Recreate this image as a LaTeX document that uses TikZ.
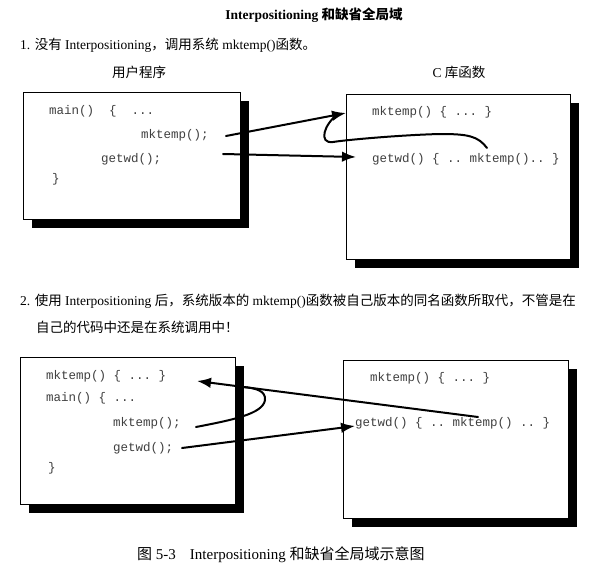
\documentclass[tikz,border=0pt]{standalone}
\usepackage{fontspec}
\setmainfont{Liberation Serif}
\setmonofont{Liberation Mono}
\newfontfamily\cjk{Noto Sans CJK SC}
\usetikzlibrary{arrows.meta,shadows}
\newcommand\zh[1]{{\cjk #1}}
\begin{document}
\begin{tikzpicture}[x=1pt,y=-1pt,
  codebox/.style={draw=black, line width=0.8pt, fill=white, inner sep=0pt, outer sep=0pt, anchor=north west,
    general shadow={fill=black, shadow xshift=8.5pt, shadow yshift=-9pt}},
  code/.style={font=\ttfamily\fontsize{12.5}{14}\selectfont, text=black!75, anchor=base west, inner sep=0pt},
  body/.style={font=\fontsize{13.5}{16}\selectfont, anchor=base west, inner sep=0pt},
  head/.style={font=\fontsize{13.5}{16}\selectfont, anchor=base, inner sep=0pt},
  conn/.style={line width=2pt, line cap=round},
  arr/.style={conn, -{Latex[length=14pt,width=10.5pt]}}]
\useasboundingbox (0,0) rectangle (607,575);

% headings
\node[font=\bfseries\fontsize{13.5}{15}\selectfont, anchor=base, inner sep=0pt] (title) at (314,20)
  {Interpositioning \zh{\bfseries 和缺省全局域}};
\node[body] (t1) at (20,50) {1. \zh{没有} Interpositioning\zh{，调用系统} mktemp()\zh{函数。}};
\node[head] (h1) at (139,78) {\zh{用户程序}};
\node[head] (h2) at (459,78) {C \zh{库函数}};
\node[body] (t2) at (20,305) {2. \zh{使用} Interpositioning \zh{后，系统版本的} mktemp()\zh{函数被自己版本的同名函数所取代，不管是在}};
\node[body] (t3) at (36,332) {\zh{自己的代码中还是在系统调用中！}};
\node[font=\fontsize{15}{18}\selectfont, anchor=base west, inner sep=0pt] (cap) at (137,559)
  {\zh{图} 5-3\hspace{14pt}Interpositioning \zh{和缺省全局域示意图}};

% boxes
\node[codebox, minimum width=217pt, minimum height=127pt] (b1) at (23,92) {};
\node[codebox, minimum width=224pt, minimum height=165pt] (b2) at (346,94) {};
\node[codebox, minimum width=215pt, minimum height=147pt] (b3) at (20,357) {};
\node[codebox, minimum width=225pt, minimum height=158pt] (b4) at (343,360) {};

% code box 1
\node[code] (m1) at (49,114) {main()~~\{~~...};
\node[code] (k1) at (141,138) {mktemp();};
\node[code] (g1) at (101,162) {getwd();};
\node[code] (e1) at (52,182) {\}};
% code box 2
\node[code] (k2) at (372,115) {mktemp() \{ ... \}};
\node[code] (g2) at (372,162) {getwd() \{ .. mktemp().. \}};
% code box 3
\node[code] (k3) at (46,379) {mktemp() \{ ... \}};
\node[code] (m3) at (46,401) {main() \{ ...};
\node[code] (kc3) at (113,426) {mktemp();};
\node[code] (g3) at (113,451) {getwd();};
\node[code] (e3) at (48,471) {\}};
% code box 4
\node[code] (k4) at (370,381) {mktemp() \{ ... \}};
\node[code] (g4) at (355,426) {getwd() \{ .. mktemp() .. \}};

% connectors, part 1
\coordinate (a1s) at (226,136);
\coordinate (a1e) at (346,113);
\draw[arr] (a1s) -- (a1e);
\coordinate (a2s) at (223,154);
\coordinate (a2e) at (356,157);
\draw[arr] (a2s) -- (a2e);
\coordinate (c1s) at (487,148);
\draw[conn] (c1s) .. controls (478,136) and (468,134) .. (440,134)
  .. controls (400,135) and (345,140) .. (333,142)
  .. controls (318,144) and (324,124) .. (338,114);

% connectors, part 2
\coordinate (l1s) at (478,417);
\coordinate (l1e) at (197,381);
\draw[arr] (l1s) -- (l1e);
\coordinate (c2s) at (196,427);
\draw[conn] (c2s) .. controls (232,420) and (263,414) .. (265,400)
  .. controls (266,391) and (256,388) .. (243,387);
\coordinate (a3s) at (182,448);
\coordinate (a3e) at (355,426);
\draw[arr] (a3s) -- (a3e);
\end{tikzpicture}
\end{document}
